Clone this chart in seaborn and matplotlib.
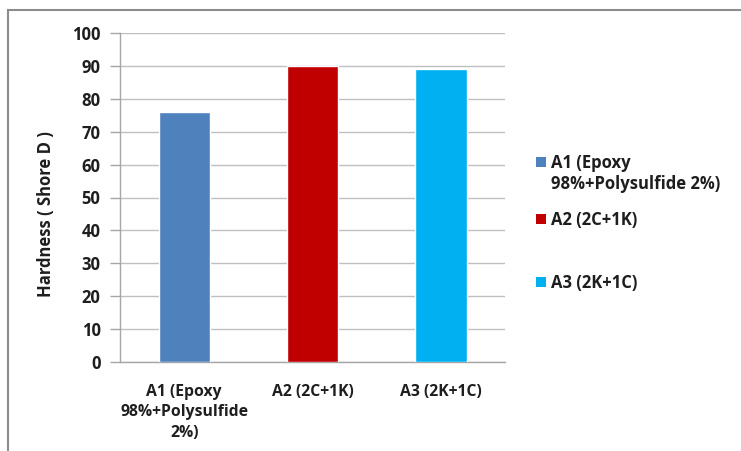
import matplotlib
matplotlib.use("Agg")
import matplotlib.pyplot as plt
from matplotlib.patches import Patch, Rectangle
import pandas as pd
import seaborn as sns

categories = ["A1 (Epoxy\n98%+Polysulfide\n2%)", "A2 (2C+1K)", "A3 (2K+1C)"]
legend_lines = [["A1 (Epoxy", "98%+Polysulfide 2%)"], ["A2 (2C+1K)"], ["A3 (2K+1C)"]]
hardness = [76, 90, 89]
colors = ["#4F81BD", "#C00000", "#00B0F0"]
y_ticks = [0, 10, 20, 30, 40, 50, 60, 70, 80, 90, 100]

sns.set_theme(style="white")
plt.rcParams["font.family"] = ["Open Sans", "DejaVu Sans"]
plt.rcParams["font.weight"] = "bold"

W, H = 741, 451
df = pd.DataFrame({"sample": categories, "hardness": hardness})

fig = plt.figure(figsize=(W / 100, H / 100), dpi=100)
ax = fig.add_axes([120 / W, 1 - 362 / H, 385 / W, 329 / H])

sns.barplot(data=df, x="sample", y="hardness", hue="sample",
            palette=colors, width=0.4, legend=False, saturation=1,
            ax=ax, zorder=3)

ax.set_ylim(0, 100)
ax.set_yticks(y_ticks)
ax.set_xlim(-0.5, 2.5)
ax.grid(axis="y", color="#BFBFBF", linewidth=1, zorder=0)
ax.set_axisbelow(True)
for side in ["top", "right"]:
    ax.spines[side].set_visible(False)
for side in ["left", "bottom"]:
    ax.spines[side].set_color("#A6A6A6")
    ax.spines[side].set_linewidth(1)

ax.tick_params(axis="y", which="both", left=True, length=7, width=1,
               color="#A6A6A6", pad=7, labelsize=12, labelcolor="#1E1E1E")
ax.tick_params(axis="x", bottom=False, pad=10, labelsize=11.3,
               labelcolor="#1E1E1E")
for lbl in ax.get_xticklabels() + ax.get_yticklabels():
    lbl.set_fontweight("bold")
for lbl in ax.get_xticklabels():
    lbl.set_linespacing(1.35)

ax.set_xlabel("")
ax.set_ylabel("Hardness ( Shore D )", fontsize=12, fontweight="bold",
              color="#1E1E1E")
ax.yaxis.set_label_coords((55 - 120) / 385, (362 - 214) / 329)

# legend, one block per series
legend_centers = [173.5, 220, 283]
for i, (lines, c, yc) in enumerate(zip(legend_lines, colors, legend_centers)):
    handles = [Patch(facecolor=c, edgecolor="none")]
    handles += [Patch(facecolor="none", edgecolor="none")] * (len(lines) - 1)
    leg = ax.legend(handles, lines, loc="center left",
                    bbox_to_anchor=(536 / W, 1 - yc / H),
                    bbox_transform=fig.transFigure, frameon=False,
                    borderpad=0, borderaxespad=0,
                    handlelength=0.6, handleheight=0.6, handletextpad=0.3,
                    labelspacing=0.2, prop={"weight": "bold", "size": 12})
    for t in leg.get_texts():
        t.set_color("#1E1E1E")
    if i < len(legend_lines) - 1:
        ax.add_artist(leg)

# chart frame
fig.patches.append(Rectangle((8 / W, -0.1), 1.2, 1 - 10 / H + 0.1,
                             transform=fig.transFigure, fill=False,
                             edgecolor="#8C8C8C", linewidth=1.5))

fig.savefig("out.png", dpi=100)
